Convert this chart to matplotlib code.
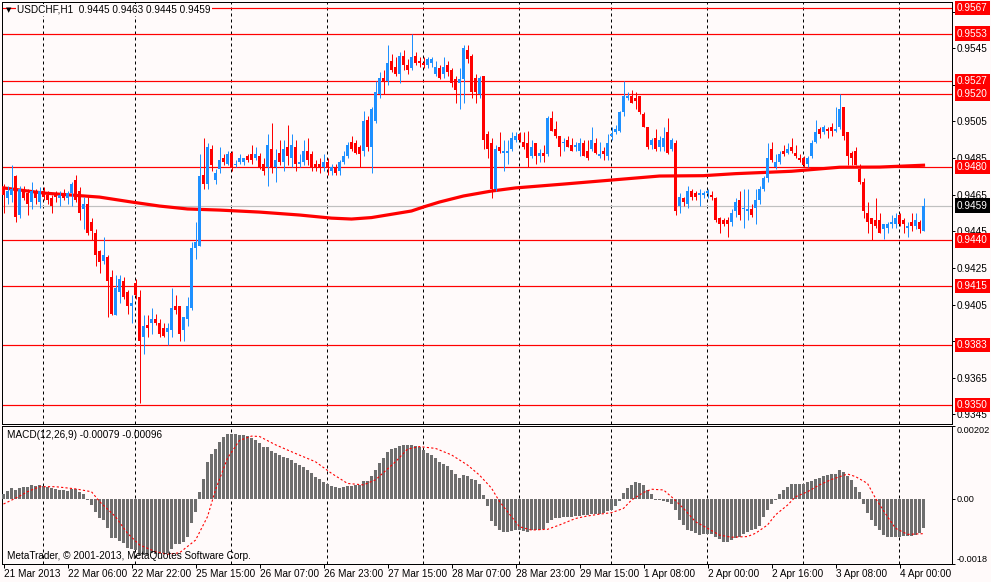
import matplotlib
matplotlib.use("Agg")
import matplotlib.pyplot as plt
import matplotlib.transforms as mtransforms
import numpy as np

# TEXTOS
symbol_title = "USDCHF,H1  0.9445 0.9463 0.9445 0.9459"
macd_title = "MACD(12,26,9) -0.00079 -0.00096"
copyright_text = "MetaTrader, \u00a9 2001-2013, MetaQuotes Software Corp."

# VELAS H1 (uma por hora, a partir de 21 Mar 14:00)
opens = [
    .9469, .9463, .9465, .9475, .9454, .9468, .9466, .9461, .9466, .9461,
    .9467, .9465, .9463, .9465, .9463, .9466, .9463, .9466, .9473, .9467,
    .9457, .9460, .9450, .9444, .9434, .9429, .9431, .9420, .9399, .9412,
    .9418, .9412, .9404, .9417, .9409, .9387, .9394, .9395, .9397, .9395,
    .9392, .9390, .9391, .9404, .9404, .9391, .9397, .9403, .9436, .9437,
    .9476, .9471, .9490, .9473, .9479, .9485, .9482, .9488, .9481, .9483,
    .9483, .9486, .9487, .9485, .9486, .9482, .9480, .9490, .9480, .9488,
    .9483, .9491, .9485, .9491, .9482, .9483, .9489, .9487, .9482, .9482,
    .9480, .9483, .9478, .9480, .9478, .9483, .9486, .9494, .9493, .9491,
    .9489, .9506, .9491, .9505, .9520, .9529, .9527, .9538, .9535, .9531,
    .9541, .9536, .9534, .9541, .9538, .9537, .9536, .9537, .9531, .9534,
    .9531, .9536, .9533, .9528, .9526, .9528, .9544, .9541, .9529, .9520,
    .9530, .9498, .9493, .9468, .9491, .9488, .9488, .9490, .9495, .9498,
    .9494, .9493, .9486, .9493, .9486, .9488, .9487, .9507, .9501, .9497,
    .9493, .9495, .9492, .9491, .9489, .9493, .9489, .9490, .9493, .9486,
    .9489, .9486, .9497, .9499, .9500, .9510, .9518, .9519, .9518, .9519,
    .9509, .9502, .9492, .9496, .9491, .9491, .9499, .9490, .9493, .9459,
    .9463, .9460, .9467, .9466, .9465, .9465, .9466, .9465, .9463, .9452,
    .9451, .9451, .9450, .9456, .9462, .9457, .9456, .9457, .9458, .9462,
    .9468, .9474, .9490, .9480, .9483, .9489, .9488, .9491, .9488, .9485,
    .9485, .9482, .9486, .9494, .9501, .9499, .9501, .9502, .9500, .9502,
    .9513, .9499, .9488, .9489, .9479, .9472, .9455, .9452, .9451, .9451,
    .9446, .9447, .9449, .9449, .9454, .9451, .9447, .9450, .9448, .9450,
    .9445,
]
highs = [
    .9471, .9470, .9481, .9476, .9470, .9470, .9468, .9472, .9468, .9469,
    .9469, .9467, .9465, .9467, .9467, .9468, .9467, .9472, .9476, .9469,
    .9464, .9464, .9452, .9446, .9435, .9442, .9432, .9424, .9421, .9421,
    .9420, .9413, .9410, .9419, .9413, .9399, .9399, .9403, .9400, .9397,
    .9395, .9395, .9414, .9410, .9404, .9398, .9409, .9439, .9450, .9487,
    .9496, .9493, .9492, .9479, .9491, .9487, .9489, .9489, .9484, .9487,
    .9485, .9487, .9492, .9491, .9488, .9485, .9498, .9504, .9490, .9495,
    .9495, .9503, .9498, .9495, .9487, .9495, .9496, .9489, .9484, .9485,
    .9487, .9485, .9482, .9482, .9484, .9489, .9494, .9497, .9495, .9492,
    .9511, .9508, .9513, .9527, .9532, .9533, .9547, .9542, .9540, .9543,
    .9544, .9539, .9553, .9543, .9540, .9540, .9540, .9540, .9538, .9536,
    .9540, .9538, .9534, .9530, .9534, .9547, .9547, .9542, .9531, .9530,
    .9530, .9500, .9496, .9492, .9499, .9495, .9495, .9499, .9499, .9499,
    .9499, .9500, .9495, .9493, .9490, .9492, .9508, .9511, .9505, .9497,
    .9496, .9497, .9496, .9494, .9496, .9495, .9495, .9502, .9496, .9494,
    .9491, .9498, .9502, .9503, .9511, .9527, .9521, .9522, .9521, .9519,
    .9510, .9502, .9496, .9501, .9497, .9502, .9507, .9496, .9495, .9466,
    .9464, .9470, .9468, .9467, .9468, .9467, .9468, .9467, .9464, .9453,
    .9452, .9453, .9457, .9463, .9467, .9468, .9468, .9460, .9468, .9470,
    .9475, .9493, .9494, .9487, .9489, .9492, .9493, .9496, .9492, .9487,
    .9486, .9486, .9495, .9506, .9502, .9503, .9502, .9504, .9513, .9520,
    .9513, .9499, .9489, .9491, .9482, .9474, .9461, .9452, .9463, .9455,
    .9449, .9450, .9454, .9455, .9455, .9452, .9450, .9455, .9455, .9451,
    .9463,
]
lows = [
    .9455, .9460, .9461, .9450, .9452, .9462, .9454, .9457, .9460, .9458,
    .9462, .9460, .9455, .9461, .9459, .9462, .9460, .9459, .9461, .9451,
    .9446, .9443, .9440, .9426, .9422, .9427, .9398, .9399, .9399, .9406,
    .9408, .9400, .9395, .9408, .9351, .9378, .9387, .9389, .9394, .9387,
    .9387, .9383, .9387, .9400, .9385, .9385, .9393, .9402, .9430, .9437,
    .9468, .9468, .9478, .9471, .9477, .9481, .9481, .9478, .9480, .9482,
    .9481, .9483, .9482, .9484, .9479, .9476, .9470, .9477, .9472, .9481,
    .9478, .9481, .9480, .9478, .9480, .9481, .9481, .9478, .9478, .9477,
    .9478, .9476, .9476, .9476, .9476, .9482, .9485, .9489, .9487, .9480,
    .9486, .9489, .9477, .9504, .9518, .9520, .9525, .9532, .9530, .9526,
    .9533, .9531, .9533, .9536, .9535, .9534, .9534, .9535, .9530, .9528,
    .9529, .9530, .9524, .9515, .9512, .9515, .9537, .9518, .9515, .9518,
    .9490, .9485, .9463, .9467, .9488, .9478, .9482, .9489, .9494, .9494,
    .9490, .9480, .9485, .9482, .9483, .9483, .9486, .9500, .9496, .9486,
    .9489, .9491, .9489, .9489, .9486, .9486, .9484, .9489, .9487, .9485,
    .9484, .9484, .9495, .9498, .9499, .9508, .9517, .9515, .9512, .9509,
    .9502, .9490, .9490, .9489, .9489, .9489, .9487, .9489, .9454, .9455,
    .9459, .9458, .9462, .9462, .9459, .9463, .9463, .9462, .9450, .9444,
    .9448, .9442, .9448, .9453, .9451, .9447, .9451, .9453, .9449, .9460,
    .9467, .9472, .9483, .9479, .9482, .9486, .9487, .9488, .9485, .9483,
    .9480, .9480, .9485, .9493, .9496, .9498, .9496, .9497, .9499, .9501,
    .9495, .9481, .9481, .9481, .9471, .9452, .9444, .9440, .9447, .9444,
    .9441, .9444, .9447, .9447, .9448, .9444, .9442, .9445, .9446, .9444,
    .9445,
]
closes = [
    .9465, .9467, .9468, .9453, .9468, .9463, .9460, .9467, .9463, .9467,
    .9464, .9462, .9459, .9464, .9465, .9463, .9466, .9471, .9462, .9455,
    .9460, .9444, .9445, .9432, .9428, .9432, .9418, .9400, .9414, .9419,
    .9409, .9404, .9406, .9410, .9385, .9393, .9392, .9397, .9395, .9389,
    .9388, .9392, .9403, .9402, .9389, .9398, .9404, .9436, .9439, .9475,
    .9471, .9491, .9481, .9477, .9484, .9483, .9487, .9480, .9482, .9485,
    .9485, .9484, .9484, .9487, .9480, .9478, .9492, .9480, .9484, .9483,
    .9490, .9486, .9492, .9482, .9483, .9489, .9484, .9480, .9480, .9480,
    .9483, .9480, .9480, .9477, .9483, .9486, .9492, .9490, .9488, .9487,
    .9505, .9491, .9512, .9521, .9529, .9527, .9537, .9533, .9531, .9541,
    .9536, .9533, .9540, .9537, .9537, .9536, .9539, .9539, .9535, .9529,
    .9535, .9532, .9526, .9522, .9528, .9545, .9539, .9521, .9521, .9529,
    .9495, .9490, .9468, .9490, .9489, .9489, .9489, .9496, .9497, .9495,
    .9491, .9485, .9491, .9486, .9488, .9486, .9507, .9500, .9497, .9491,
    .9494, .9491, .9489, .9492, .9493, .9486, .9485, .9495, .9488, .9487,
    .9487, .9493, .9498, .9501, .9510, .9519, .9519, .9515, .9516, .9510,
    .9502, .9491, .9495, .9490, .9495, .9496, .9488, .9495, .9456, .9464,
    .9461, .9467, .9464, .9464, .9466, .9466, .9467, .9464, .9451, .9449,
    .9449, .9449, .9455, .9461, .9454, .9458, .9457, .9454, .9462, .9468,
    .9474, .9485, .9484, .9483, .9487, .9487, .9490, .9489, .9486, .9484,
    .9481, .9485, .9493, .9499, .9498, .9502, .9500, .9500, .9501, .9512,
    .9497, .9486, .9485, .9481, .9472, .9456, .9450, .9449, .9448, .9444,
    .9449, .9449, .9450, .9452, .9449, .9449, .9448, .9448, .9451, .9446,
    .9459,
]

# MEDIA MOVEL (lida em alguns pontos)
ma_bars = [0, 10, 17, 24, 32, 39, 46, 54, 64, 74, 82, 87, 92, 102, 105, 109,
           115, 122, 128, 140, 152, 164, 175, 183, 197, 209, 219, 230]
ma_values = [0.94687, 0.94659, 0.94648, 0.94637, 0.94610, 0.94588, 0.94572,
             0.94566, 0.94555, 0.94539, 0.94522, 0.94517, 0.94525, 0.94561,
             0.94583, 0.94610, 0.94643, 0.94670, 0.94687, 0.94708, 0.94730,
             0.94752, 0.94754, 0.94765, 0.94778, 0.94800, 0.94801, 0.94811]

# NIVEIS HORIZONTAIS
level_prices = [0.9567, 0.9553, 0.9527, 0.9520, 0.9480, 0.9440, 0.9415, 0.9383, 0.9350]
bid_price = 0.9459
price_ticks = [0.9345, 0.9365, 0.9385, 0.9405, 0.9425, 0.9445, 0.9465, 0.9485,
               0.9505, 0.9525, 0.9545, 0.9565]
# rotulos que ficam escondidos atras das caixas dos niveis
hidden_ticks = [0.9385, 0.9525, 0.9565]

# MACD (unidades de 1e-5)
macd_hist_e5 = [
    13, 22, 29, 26, 30, 33, 34, 38, 36, 38,
    37, 34, 30, 28, 26, 24, 22, 28, 27, 19,
    13, -2, -17, -36, -53, -59, -80, -107, -107, -116,
    -121, -135, -139, -142, -156, -154, -154, -150, -151, -153,
    -150, -149, -138, -126, -126, -119, -105, -66, -36, 19,
    56, 101, 124, 139, 157, 172, 179, 179, 179, 178,
    176, 174, 170, 164, 155, 144, 144, 133, 128, 123,
    116, 114, 107, 100, 93, 89, 81, 72, 61, 54,
    46, 42, 37, 33, 30, 33, 35, 37, 38, 38,
    49, 49, 63, 79, 100, 114, 129, 137, 141, 148,
    149, 149, 150, 146, 144, 135, 128, 123, 114, 102,
    98, 90, 79, 68, 59, 66, 63, 54, 52, 42,
    10, -19, -61, -76, -87, -92, -92, -90, -87, -87,
    -90, -92, -87, -87, -87, -82, -66, -59, -53, -52,
    -50, -50, -50, -48, -48, -45, -43, -41, -41, -41,
    -39, -33, -30, -20, -6, 17, 29, 38, 46, 44,
    38, 24, 13, -3, -4, -6, -8, -15, -30, -59,
    -71, -87, -90, -94, -99, -97, -97, -97, -105, -110,
    -119, -119, -114, -107, -105, -96, -91, -87, -82, -76,
    -50, -30, -13, -4, 15, 24, 33, 41, 42, 42,
    42, 47, 50, 54, 59, 63, 66, 70, 70, 79,
    75, 63, 52, 33, 19, -13, -39, -57, -74, -87,
    -99, -105, -105, -105, -105, -103, -102, -102, -99, -94,
    -79,
]
signal_bars = [0, 3, 6, 9, 13, 18, 22, 24, 28, 31, 34, 38, 41, 44, 48, 51, 53,
               56, 59, 62, 64, 68, 73, 78, 82, 86, 90, 93, 98, 101, 104, 108,
               112, 116, 119, 122, 124, 127, 129, 132, 136, 139, 143, 146, 149,
               152, 155, 157, 160, 162, 165, 167, 170, 173, 176, 179, 182, 186,
               188, 191, 193, 196, 198, 201, 204, 207, 211, 213, 216, 218, 221,
               223, 226, 230]
signal_e5 = [-14, 2, 20, 34, 34, 28, 20, -7, -49, -95, -127, -146, -153, -149,
             -114, -49, 25, 113, 162, 174, 173, 150, 126, 103, 71, 43, 39, 53,
             103, 138, 145, 140, 122, 94, 66, 30, -7, -49, -77, -86, -84, -72,
             -54, -47, -42, -38, -26, -3, 18, 27, 25, 6, -26, -63, -81, -100,
             -106, -104, -95, -72, -44, -17, 6, 20, 39, 54, 69, 62, 43, 2, -49,
             -81, -98, -96]
macd_ticks = [0.00202, 0.0, -0.0018]
macd_tick_labels = ["0.00202", "0.00", "-0.0018"]

# EIXO DO TEMPO
time_tick_bars = [0, 16, 32, 48, 64, 80, 96, 112, 128, 144, 160, 176, 192, 208, 224]
time_labels = ["21 Mar 2013", "22 Mar 06:00", "22 Mar 22:00", "25 Mar 15:00",
               "26 Mar 07:00", "26 Mar 23:00", "27 Mar 15:00", "28 Mar 07:00",
               "28 Mar 23:00", "29 Mar 15:00", "1 Apr 08:00", "2 Apr 00:00",
               "2 Apr 16:00", "3 Apr 08:00", "4 Apr 00:00"]
grid_bars = [9.875, 32.875, 56.875, 80.875, 104.875, 128.875, 151.875,
             175.875, 199.875, 223.875]

# ESTILO
BG = "#fffafa"
BULL = "#1e90ff"
BEAR = "#ff0000"
PX = 0.72  # 1 pixel em pontos
FS = 7.2
plt.rcParams["font.family"] = ["Liberation Sans", "DejaVu Sans"]

W, H = 991, 582


def caixa(l, t, r, b):
    return [l / W, 1 - b / H, (r - l) / W, (b - t) / H]


fig = plt.figure(figsize=(W / 100, H / 100), dpi=100, facecolor=BG)
ax = fig.add_axes(caixa(2, 2, 952, 424), facecolor=BG)
axm = fig.add_axes(caixa(2, 426, 952, 564), facecolor=BG)

xlim = (-0.375, 237.125)

# painel de precos
o = np.array(opens)
h = np.array(highs)
lo = np.array(lows)
c = np.array(closes)
x = np.arange(len(o))
cores = np.where(c >= o, BULL, BEAR)

ax.vlines(x, lo, h, colors=cores, linewidth=PX, zorder=4)
ax.bar(x, np.maximum(np.abs(c - o), 0.00006), width=0.75,
       bottom=np.minimum(o, c), color=cores, linewidth=0, zorder=5)
ax.plot(ma_bars, ma_values, color="red", linewidth=2.3, zorder=3.5)

for p in level_prices:
    ax.axhline(p, color="red", linewidth=PX * 1.2, zorder=2)
ax.axhline(bid_price, color="#c0c0c0", linewidth=PX * 1.2, zorder=1.8)

for gb in grid_bars:
    for a in (ax, axm):
        a.axvline(gb, color="black", linewidth=PX, dashes=(3, 3), zorder=1)

ax.set_xlim(*xlim)
ax.set_ylim(0.93397, 0.95703)
ax.set_xticks([])
ax.yaxis.tick_right()
ax.set_yticks(price_ticks)
ax.set_yticklabels(["" if p in hidden_ticks else f"{p:.4f}" for p in price_ticks])
ax.tick_params(axis="y", length=3 * PX, width=PX, pad=1.5, labelsize=FS)

trans = mtransforms.blended_transform_factory(fig.transFigure, ax.transData)
for p in level_prices:
    ax.text(957 / W, p, f"{p:.4f}", transform=trans, color="white", fontsize=FS,
            va="center", ha="left", clip_on=False, zorder=6,
            bbox=dict(boxstyle="square,pad=0.22", fc="red", ec="none"))
ax.text(957 / W, bid_price, f"{bid_price:.4f}", transform=trans, color="white",
        fontsize=FS, va="center", ha="left", clip_on=False, zorder=6,
        bbox=dict(boxstyle="square,pad=0.22", fc="black", ec="none"))

# painel MACD
hist = np.array(macd_hist_e5) * 1e-5
sinal = np.array(signal_e5) * 1e-5
axm.bar(x, hist, width=0.7, color="#6e6e6e", linewidth=0, zorder=3)
axm.plot(signal_bars, sinal, color="red", linewidth=PX * 1.1, dashes=(2, 2), zorder=4)
axm.set_xlim(*xlim)
axm.set_ylim(-0.0018, 0.00202)
axm.yaxis.tick_right()
axm.set_yticks(macd_ticks)
axm.set_yticklabels(macd_tick_labels)
axm.tick_params(axis="y", length=3 * PX, width=PX, pad=1.0, labelsize=6.6)
ylabs = axm.get_yticklabels()
ylabs[0].set_va("top")
ylabs[2].set_va("bottom")
axm.set_xticks(time_tick_bars)
axm.set_xticklabels(time_labels)
axm.tick_params(axis="x", length=4 * PX, width=PX, pad=0.5, labelsize=FS)
for lab in axm.get_xticklabels():
    lab.set_ha("left")

for a in (ax, axm):
    for s in a.spines.values():
        s.set_linewidth(PX)
        s.set_color("black")

# textos
fig.text(6 / W, 1 - 10 / H, "\u25bc", fontsize=5, family="DejaVu Sans",
         va="center", ha="left")
fig.text(17 / W, 1 - 10 / H, symbol_title, fontsize=FS, va="center", ha="left",
         bbox=dict(boxstyle="square,pad=0.1", fc=BG, ec="none"))
fig.text(7 / W, 1 - 435 / H, macd_title, fontsize=FS, va="center", ha="left")
fig.text(7 / W, 1 - 556 / H, copyright_text, fontsize=FS, va="center", ha="left")

fig.savefig("out.png", dpi=100, facecolor=BG)
